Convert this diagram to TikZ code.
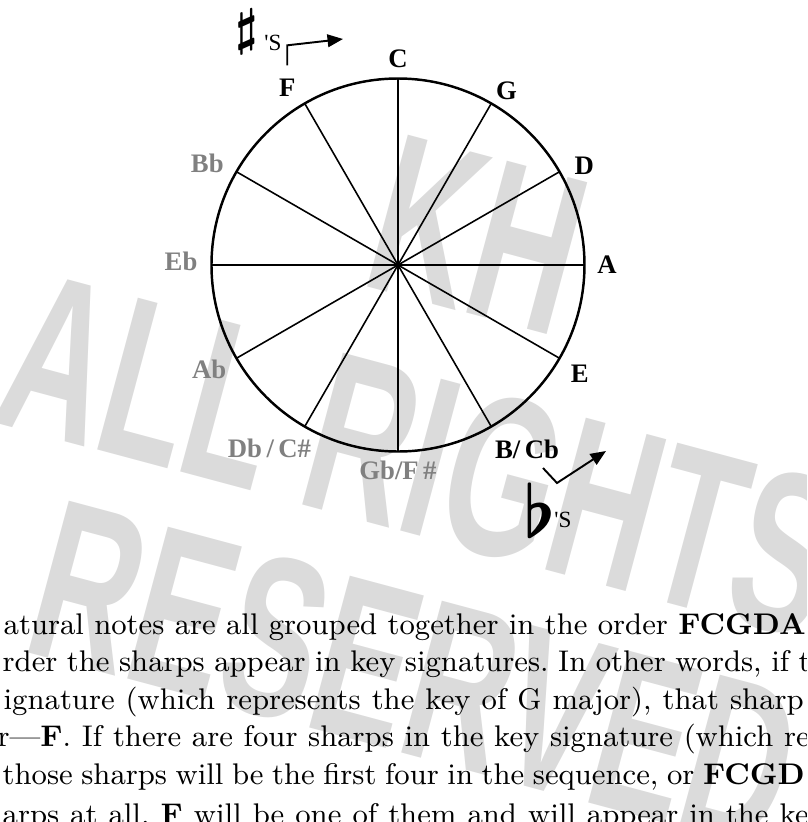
\documentclass[tikz,border=0pt]{standalone}
\usepackage{fix-cm}
\usepackage{fontspec}
\newfontfamily\keyfont{Liberation Serif}
\newfontfamily\markfont{Liberation Sans}
\usetikzlibrary{arrows.meta,positioning}
\definecolor{keygray}{gray}{0.5}
\definecolor{markgray}{gray}{0.86}
\tikzset{
  rim/.style={line width=0.7pt},
  spoke/.style={line width=0.45pt},
  keynat/.style={font=\keyfont\bfseries\fontsize{7.6}{9}\selectfont, inner sep=0pt},
  keyalt/.style={keynat, text=keygray},
  accsym/.style={inner sep=0pt},
  acctag/.style={font=\keyfont\fontsize{6.6}{8}\selectfont, inner sep=0pt},
  arr/.style={-{Triangle[length=4.4pt,width=3.6pt]}, line width=0.55pt},
  wmark/.style={text=markgray, font=\markfont\bfseries\fontsize{65}{70}\selectfont,
    rotate=-15, xscale=0.62, transform shape, inner sep=0pt},
  bodyline/.style={anchor=base west, inner sep=0pt, font=\rmfamily\fontsize{8.5}{10}\selectfont}
}
\begin{document}
\frenchspacing
\begin{tikzpicture}[font=\keyfont]
  \useasboundingbox (-3.98,-5.57) rectangle (4.09,2.65);
  \clip (-3.98,-5.57) rectangle (4.09,2.65);

  % watermark
  \node[wmark] (wmKH) at (0.80,0.30) {KH};
  \node[wmark] (wmAll) at (0.22,-1.90) {ALL RIGHTS};
  \node[wmark] (wmRes) at (0.17,-4.10) {RESERVED};

  % circle of fifths
  \coordinate (hub) at (0,0);
  \draw[rim] (hub) circle[radius=1.865];
  \foreach \a in {0,30,...,330}
    \draw[spoke] (hub) -- (\a:1.865);

  \foreach \n/\a/\r/\s/\t in {C/90/2.06/keynat/C, G/58/2.05/keynat/G, D/28/2.11/keynat/D,
      A/0/2.09/keynat/A, E/-31/2.12/keynat/E, B/-55/2.25/keynat/{B/\,Cb},
      Gb/-90/2.05/keyalt/{Gb/F\,\#}, Db/-125/2.24/keyalt/{Db\,/\,C\#},
      Ab/-151/2.16/keyalt/Ab, Eb/179/2.17/keyalt/Eb, Bb/152/2.16/keyalt/Bb,
      F/122/2.09/keynat/F}
    \node[\s] (k\n) at (\a:\r) {\t};

  % sharps and flats
  \node[accsym, font=\fontsize{14.4}{16}\selectfont\boldmath] (sharp) at (-1.51,2.33) {$\sharp$};
  \node[acctag] (sharptag) at (-1.25,2.22) {'S};
  \coordinate (sharptip) at (-0.55,2.26);
  \draw[arr] ([yshift=1.3mm]kF.north) -- ++(0,0.2) -- (sharptip);

  \node[accsym, font=\fontsize{20.7}{22}\selectfont\boldmath] (flat) at (1.42,-2.45) {$\flat$};
  \node[acctag] (flattag) at (1.65,-2.55) {'S};
  \coordinate (flatfoot) at (1.45,-2.03);
  \coordinate (flattip) at (2.08,-1.86);
  \draw[arr] (flatfoot) -- ++(0.14,-0.15) -- (flattip);

  % text below
  \node[bodyline] (ln1) at (-3.95,-3.69) {\makebox[8.02cm][s]{atural notes are all grouped together in the order \textbf{FCGDA}}};
  \node[bodyline] (ln2) at (-3.96,-4.065) {\makebox[8.08cm][s]{rder the sharps appear in key signatures. In other words, if t}};
  \node[bodyline] (ln3) at (-3.95,-4.44) {\makebox[8.00cm][s]{ignature (which represents the key of G major), that sharp}};
  \node[bodyline] (ln4) at (-4.01,-4.815) {\makebox[8.12cm][s]{r---\textbf{F}. If there are four sharps in the key signature (which re}};
  \node[bodyline] (ln5) at (-3.96,-5.19) {\makebox[8.02cm][s]{those sharps will be the first four in the sequence, or \textbf{FCGD}}};
  \node[bodyline] (ln6) at (-3.96,-5.59) {\makebox[8.06cm][s]{arps at all, \textbf{F} will be one of them and will appear in the ke}};
\end{tikzpicture}
\end{document}
